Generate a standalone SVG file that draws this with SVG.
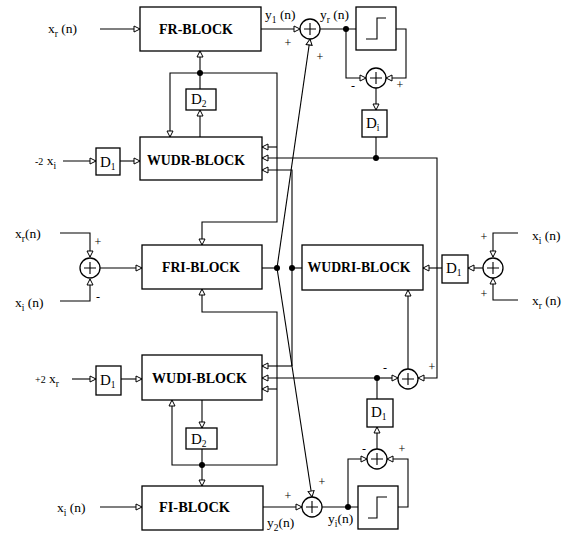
<svg xmlns="http://www.w3.org/2000/svg" width="573" height="536" viewBox="0 0 573 536">
<defs>
<marker id="ar" markerUnits="userSpaceOnUse" markerWidth="9" markerHeight="9" refX="7" refY="4" orient="auto">
<path d="M1,1 L7,4 L1,7 Z" fill="#fff" stroke="#000" stroke-width="1"/>
</marker>
<style>
.b{fill:#fff;stroke:#000;stroke-width:1.3}
.c{fill:none;stroke:#000;stroke-width:1.1}
.a{marker-end:url(#ar)}
.d{fill:#000}
text{fill:#000}
.bt{font-family:"Liberation Serif",serif;font-weight:bold;font-size:14px;text-anchor:middle}
.t{font-family:"Liberation Serif",serif;font-size:13.5px}
.s{font-size:9.5px}
.pm{font-family:"Liberation Serif",serif;font-size:12px;text-anchor:middle}
.dl{font-family:"Liberation Serif",serif;font-size:15px}
</style>
</defs>
<rect width="573" height="536" fill="#fff"/>

<g id="connectors" class="c">
<path class="a" d="M100,29 H140"/>
<path class="a" d="M261,29 H300"/>
<path d="M320,29 H356"/>
<path class="a" d="M396,29 H406 V78 H386"/>
<path class="a" d="M346,29 V78 H366"/>
<path class="a" d="M376,88 V110"/>
<path d="M376,137 V158"/>
<path class="a" d="M376,158 H262"/>
<path class="a" d="M376,158 H437 V378 H418"/>
<path class="a" d="M292,366 V170 H262"/>
<path class="a" d="M292,366 H262"/>
<path d="M292,268 H302"/>
<path class="a" d="M200,89 V51"/>
<path class="a" d="M200,73 H170 V137"/>
<path class="a" d="M200,73 H277 V222 H202 V245"/>
<path class="a" d="M277,147 H262"/>
<path class="a" d="M200,137 V110"/>
<path class="a" d="M63,161 H96"/>
<path class="a" d="M120,161 H140"/>
<path class="a" d="M60,233 H90 V257"/>
<path class="a" d="M60,301 H90 V279"/>
<path class="a" d="M100,268 H142"/>
<path d="M262,268 H277"/>
<path class="a" d="M277,268 L310,39"/>
<path class="a" d="M277,268 L312,497"/>
<path class="a" d="M202,465 H277 V312 H202 V289"/>
<path class="a" d="M277,389 H262"/>
<path class="a" d="M518,233 H493 V257"/>
<path class="a" d="M518,300 H493 V278"/>
<path class="a" d="M483,268 H468"/>
<path class="a" d="M442,268 H423"/>
<path class="a" d="M408,369 V290"/>
<path class="a" d="M377,378 H398"/>
<path class="a" d="M377,378 H262"/>
<path class="a" d="M72,379 H96"/>
<path class="a" d="M121,379 H142"/>
<path class="a" d="M202,400 V428"/>
<path d="M202,449 V465"/>
<path class="a" d="M202,465 V486"/>
<path class="a" d="M202,465 H172 V400"/>
<path class="a" d="M100,507 H142"/>
<path class="a" d="M263,507 H302"/>
<path d="M322,507 H358"/>
<path class="a" d="M398,507 H408 V459 H387"/>
<path class="a" d="M348,507 V459 H367"/>
<path class="a" d="M377,449 V427"/>
<path d="M377,399 V378"/>
</g>

<g id="dots" class="d">
<circle cx="346" cy="29" r="3"/>
<circle cx="376" cy="158" r="3"/>
<circle cx="200" cy="73" r="3"/>
<circle cx="277" cy="268" r="3"/>
<circle cx="292" cy="268" r="3"/>
<circle cx="377" cy="378" r="3"/>
<circle cx="202" cy="465" r="3"/>
<circle cx="348" cy="507" r="3"/>
</g>

<g id="fr-block"><rect class="b" x="140" y="7" width="121" height="44"/><text class="bt" x="196" y="34" textLength="74" lengthAdjust="spacingAndGlyphs">FR-BLOCK</text></g>
<g id="wudr-block"><rect class="b" x="140" y="137" width="122" height="43"/><text class="bt" x="196" y="165" textLength="98" lengthAdjust="spacingAndGlyphs">WUDR-BLOCK</text></g>
<g id="fri-block"><rect class="b" x="142" y="245" width="120" height="44"/><text class="bt" x="201" y="272" textLength="78" lengthAdjust="spacingAndGlyphs">FRI-BLOCK</text></g>
<g id="wudri-block"><rect class="b" x="302" y="245" width="121" height="45"/><text class="bt" x="359" y="272" textLength="103" lengthAdjust="spacingAndGlyphs">WUDRI-BLOCK</text></g>
<g id="wudi-block"><rect class="b" x="142" y="355" width="120" height="45"/><text class="bt" x="199.5" y="383" textLength="95" lengthAdjust="spacingAndGlyphs">WUDI-BLOCK</text></g>
<g id="fi-block"><rect class="b" x="142" y="486" width="121" height="44"/><text class="bt" x="194.5" y="512" textLength="71" lengthAdjust="spacingAndGlyphs">FI-BLOCK</text></g>

<g id="quant-top"><rect class="b" x="356" y="7" width="40" height="43"/><path class="c" d="M366,39 H377 V18 H386"/></g>
<g id="quant-bottom"><rect class="b" x="358" y="486" width="40" height="43"/><path class="c" d="M368,518 H377 V497 H387"/></g>

<g id="d1-wudr"><rect class="b" x="96" y="148" width="24" height="27"/><text class="dl" x="100" y="167">D<tspan class="s" dy="3">1</tspan></text></g>
<g id="d2-top"><rect class="b" x="186" y="89" width="30" height="21"/><text class="dl" x="191" y="104">D<tspan class="s" dy="3">2</tspan></text></g>
<g id="di-top"><rect class="b" x="362" y="110" width="25" height="27"/><text class="dl" x="366" y="128">D<tspan class="s" dy="3">i</tspan></text></g>
<g id="d1-right"><rect class="b" x="442" y="255" width="26" height="28"/><text class="dl" x="446" y="273">D<tspan class="s" dy="3">1</tspan></text></g>
<g id="d1-wudi"><rect class="b" x="96" y="366" width="25" height="29"/><text class="dl" x="100" y="385">D<tspan class="s" dy="3">1</tspan></text></g>
<g id="d2-bottom"><rect class="b" x="186" y="428" width="31" height="21"/><text class="dl" x="191" y="444">D<tspan class="s" dy="3">2</tspan></text></g>
<g id="d1-bottom"><rect class="b" x="367" y="399" width="26" height="28"/><text class="dl" x="371" y="417">D<tspan class="s" dy="3">1</tspan></text></g>

<g id="sum-y1"><circle class="b" cx="310" cy="29" r="10"/><path class="c" d="M304,29 H316 M310,23 V35"/></g>
<g id="sum-top-q"><circle class="b" cx="376" cy="78" r="10"/><path class="c" d="M370,78 H382 M376,72 V84"/></g>
<g id="sum-left"><circle class="b" cx="90" cy="268" r="10"/><path class="c" d="M84,268 H96 M90,262 V274"/></g>
<g id="sum-right"><circle class="b" cx="493" cy="268" r="10"/><path class="c" d="M487,268 H499 M493,262 V274"/></g>
<g id="sum-wudri"><circle class="b" cx="408" cy="379" r="10"/><path class="c" d="M402,379 H414 M408,373 V385"/></g>
<g id="sum-bottom-q"><circle class="b" cx="377" cy="459" r="10"/><path class="c" d="M371,459 H383 M377,453 V465"/></g>
<g id="sum-y2"><circle class="b" cx="312" cy="507" r="10"/><path class="c" d="M306,507 H318 M312,501 V513"/></g>

<g id="labels">
<text class="t" x="48" y="33">x<tspan class="s" dy="4">r</tspan><tspan dy="-4"> (n)</tspan></text>
<text class="t" x="35" y="165"><tspan font-size="10">-2</tspan> x<tspan class="s" dy="4">i</tspan></text>
<text class="t" x="265" y="19">y<tspan class="s" dy="4">1</tspan><tspan dy="-4"> (n)</tspan></text>
<text class="t" x="320" y="19">y<tspan class="s" dy="4">r</tspan><tspan dy="-4"> (n)</tspan></text>
<text class="t" x="15" y="238">x<tspan class="s" dy="4">r</tspan><tspan dy="-4">(n)</tspan></text>
<text class="t" x="15" y="307">x<tspan class="s" dy="4">i</tspan><tspan dy="-4"> (n)</tspan></text>
<text class="t" x="532" y="240">x<tspan class="s" dy="4">i</tspan><tspan dy="-4"> (n)</tspan></text>
<text class="t" x="532" y="305">x<tspan class="s" dy="4">r</tspan><tspan dy="-4">  (n)</tspan></text>
<text class="t" x="35" y="383"><tspan font-size="10">+2</tspan> x<tspan class="s" dy="4">r</tspan></text>
<text class="t" x="57" y="512">x<tspan class="s" dy="4">i</tspan><tspan dy="-4"> (n)</tspan></text>
<text class="t" x="267" y="527">y<tspan class="s" dy="4">2</tspan><tspan dy="-4">(n)</tspan></text>
<text class="t" x="328" y="523">y<tspan class="s" dy="4">i</tspan><tspan dy="-4">(n)</tspan></text>
<text class="pm" x="288" y="47">+</text>
<text class="pm" x="320" y="61">+</text>
<text class="pm" x="353" y="90">-</text>
<text class="pm" x="400" y="89">+</text>
<text class="pm" x="98" y="246">+</text>
<text class="pm" x="98" y="301">-</text>
<text class="pm" x="484" y="241">+</text>
<text class="pm" x="484" y="298">+</text>
<text class="pm" x="385" y="372">-</text>
<text class="pm" x="432" y="371">+</text>
<text class="pm" x="364" y="453">-</text>
<text class="pm" x="402" y="453">+</text>
<text class="pm" x="288" y="500">+</text>
<text class="pm" x="322" y="486">+</text>
</g>
</svg>
